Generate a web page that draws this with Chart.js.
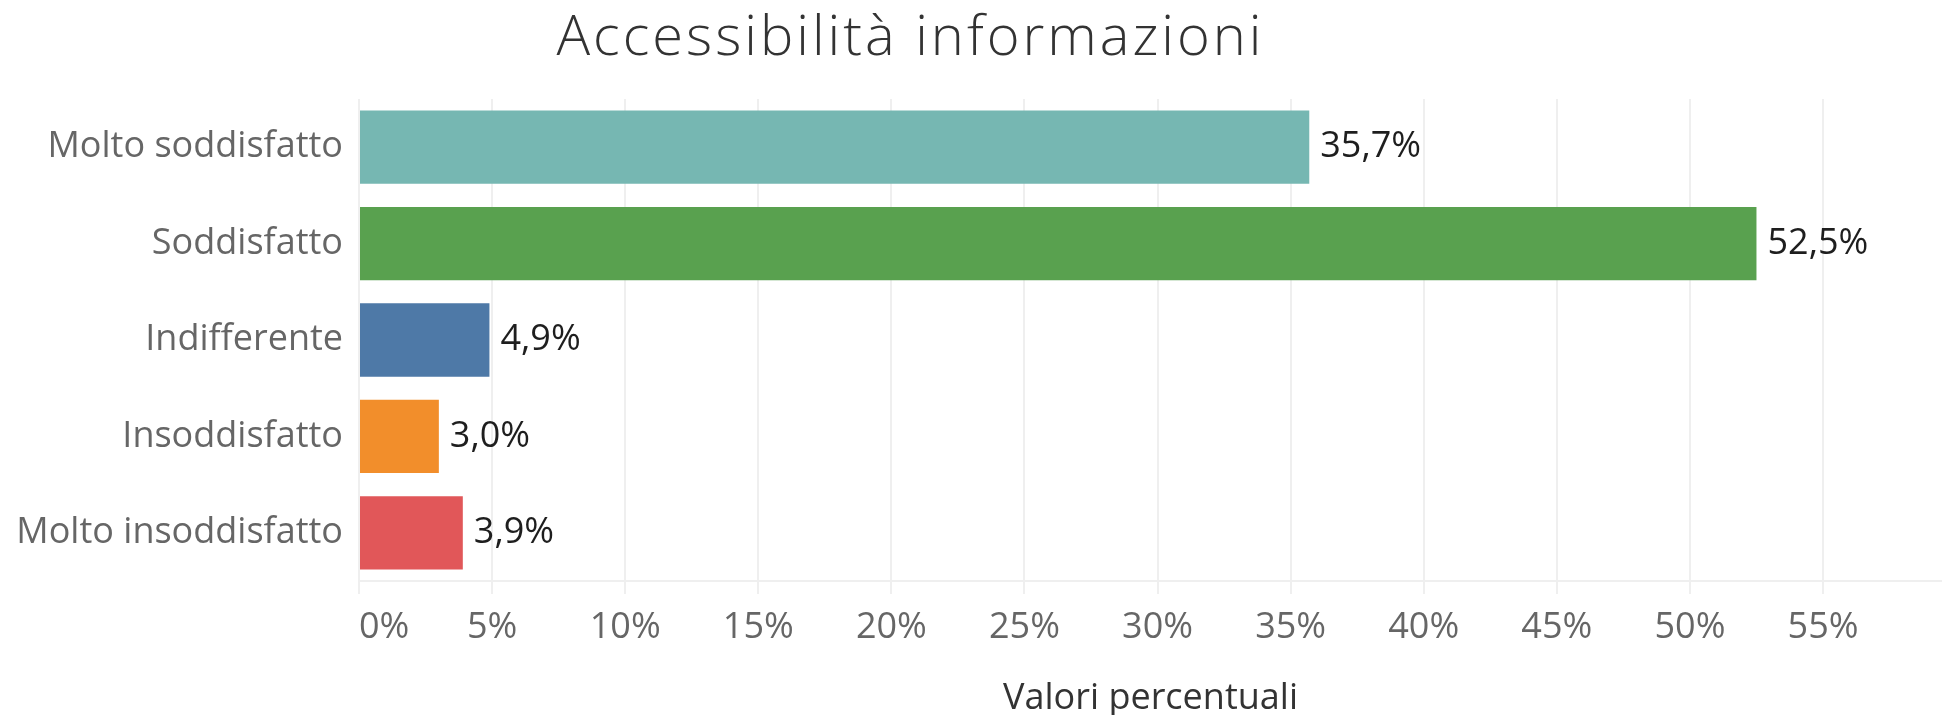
<!DOCTYPE html>
<html>
<head>
  <title>Accessibilità informazioni</title>
  <script src="https://cdn.jsdelivr.net/npm/chart.js"></script>
  <style>
    body {
      margin: 0;
      background: #fff;
    }
    #wrap {
      position: relative;
      width: 1942px;
      height: 715px;
    }
    #title {
      position: absolute;
      left: 0;
      top: 5px;
      width: 1821px;
      text-align: center;
      font-family: 'Open Sans';
      font-weight: 300;
      font-size: 56px;
      letter-spacing: 3px;
      line-height: 1;
      color: #333;
    }
  </style>
</head>
<body>
  <div id="wrap">
    <canvas id="chart" width="1942" height="715"></canvas>
    <div id="title">Accessibilità informazioni</div>
  </div>

  <script>
    // data
    const categories = ['Molto soddisfatto', 'Soddisfatto', 'Indifferente', 'Insoddisfatto', 'Molto insoddisfatto'];
    const values = [35.7, 52.5, 4.9, 3.0, 3.9];
    const barColors = ['#76b7b2', '#59a14f', '#4e79a7', '#f28e2b', '#e15759'];
    const tickValues = [0, 5, 10, 15, 20, 25, 30, 35, 40, 45, 50, 55];
    const axisMax = 59.47;

    const FONT = 'Open Sans';
    const GRID = '#efefef';

    function fmt(v) {
      return v.toFixed(1).replace('.', ',') + '%';
    }

    // draws the value next to the end of each bar
    const valueLabels = {
      id: 'valueLabels',
      afterDatasetsDraw(chart) {
        const ctx = chart.ctx;
        const meta = chart.getDatasetMeta(0);
        ctx.save();
        ctx.font = '36px "' + FONT + '"';
        ctx.fillStyle = '#1e1e1e';
        ctx.textAlign = 'left';
        ctx.textBaseline = 'middle';
        meta.data.forEach((bar, i) => {
          ctx.fillText(fmt(values[i]), bar.x + 11, bar.y);
        });
        ctx.restore();
      }
    };

    new Chart(document.getElementById('chart'), {
      type: 'bar',
      data: {
        labels: categories,
        datasets: [{
          data: values,
          backgroundColor: barColors,
          borderWidth: 0,
          categoryPercentage: 0.76,
          barPercentage: 1
        }]
      },
      options: {
        indexAxis: 'y',
        responsive: false,
        devicePixelRatio: 1,
        animation: false,
        layout: { padding: { top: 99, left: 0, right: 0, bottom: 0 } },
        plugins: {
          legend: { display: false },
          tooltip: { enabled: false }
        },
        scales: {
          x: {
            min: 0,
            max: axisMax,
            afterBuildTicks: (scale) => {
              scale.ticks = tickValues.concat([axisMax]).map(v => ({ value: v }));
            },
            afterFit: (scale) => {
              scale.height = 134;
              scale.paddingRight = 0; // plot runs to the right edge
            },
            grid: {
              color: (c) => (c.tick && c.tick.value === axisMax) ? 'rgba(0,0,0,0)' : GRID,
              lineWidth: 2,
              drawTicks: true,
              tickLength: 13,
              tickColor: (c) => (c.tick && c.tick.value === axisMax) ? 'rgba(0,0,0,0)' : GRID
            },
            border: { display: true, color: GRID, width: 2 },
            ticks: {
              align: 'inner',
              padding: 12,
              color: '#666',
              font: { family: FONT, size: 36 },
              maxRotation: 0,
              autoSkip: false,
              callback: (v) => tickValues.includes(v) ? v + '%' : ''
            },
            title: {
              display: true,
              text: 'Valori percentuali',
              color: '#333',
              font: { family: FONT, size: 36, lineHeight: 0.9 },
              padding: { top: 0, bottom: 0 }
            }
          },
          y: {
            afterFit: (scale) => { scale.width = 359; },
            grid: { display: false, drawTicks: false },
            border: { display: false },
            ticks: {
              padding: 16,
              color: '#666',
              font: { family: FONT, size: 36 }
            }
          }
        }
      },
      plugins: [valueLabels]
    });
  </script>
</body>
</html>
